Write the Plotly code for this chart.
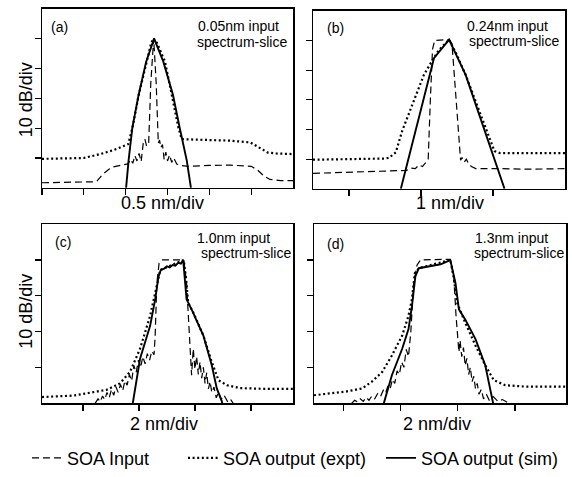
import plotly.graph_objects as go

W, H = 572, 477

# ---------------- data (units: divisions) ----------------
# Panel (a) 0.05 nm slice
a_in_x = [0, 0.6, 1.2, 1.31, 1.45, 1.6, 1.71, 1.9, 2.05, 2.12, 2.17, 2.22, 2.27, 2.32, 2.37, 2.42, 2.46, 2.5, 2.55, 2.6, 2.67, 2.73, 2.78, 2.81, 2.84, 2.88, 2.92, 2.96, 3.0, 3.05, 3.1, 3.15, 3.22, 3.3, 3.5, 4.0, 4.5, 5.0, 5.15, 5.3, 5.45, 5.7, 6.0]
a_in_y = [0.17, 0.18, 0.2, 0.22, 0.45, 0.62, 0.7, 0.76, 0.8, 0.95, 0.82, 1.08, 0.9, 1.15, 0.88, 1.5, 1.63, 1.4, 1.5, 3.5, 5.0, 3.5, 1.5, 1.6, 1.35, 1.45, 0.95, 1.2, 0.9, 1.1, 0.85, 1.0, 0.8, 0.75, 0.72, 0.75, 0.76, 0.72, 0.6, 0.4, 0.28, 0.24, 0.24]
a_ex_x = [0, 0.5, 1.0, 1.39, 1.7, 2.06, 2.16, 2.31, 2.49, 2.6, 2.66, 2.75, 2.94, 3.10, 3.26, 3.34, 3.6, 4.0, 4.5, 4.98, 5.1, 5.25, 5.4, 5.6, 6.0]
a_ex_y = [0.97, 0.98, 1.0, 1.13, 1.26, 1.46, 2.0, 3.1, 4.2, 4.8, 5.02, 4.85, 4.23, 3.12, 2.02, 1.63, 1.62, 1.6, 1.58, 1.52, 1.42, 1.28, 1.18, 1.15, 1.13]
a_sim_x = [2.01, 2.07, 2.16, 2.31, 2.49, 2.68, 2.90, 3.13, 3.29, 3.46, 3.56]
a_sim_y = [0.0, 0.92, 2.02, 3.12, 4.23, 5.0, 4.23, 3.12, 2.02, 0.92, 0.0]

# Panel (b) 0.24 nm slice
b_in_x = [0, 0.5, 1.0, 1.3, 1.36, 1.42, 1.47, 1.52, 1.57, 1.6, 1.63, 1.66, 1.69, 1.89, 1.93, 1.98, 2.03, 2.05, 2.07, 2.1, 2.13, 2.16, 2.2, 2.26, 2.6, 3.0, 3.5]
b_in_y = [0.52, 0.55, 0.6, 0.62, 0.7, 0.68, 0.8, 0.75, 0.9, 1.0, 3.0, 4.7, 5.0, 5.03, 4.9, 3.18, 1.51, 0.96, 1.05, 0.9, 1.0, 0.85, 0.75, 0.68, 0.68, 0.66, 0.68]
b_ex_x = [0, 0.5, 1.0, 1.06, 1.15, 1.24, 1.38, 1.54, 1.66, 1.75, 1.89, 2.0, 2.12, 2.31, 2.45, 2.52, 2.6, 3.0, 3.5]
b_ex_y = [0.98, 0.99, 1.02, 1.05, 1.23, 1.96, 2.84, 3.84, 4.34, 4.68, 5.03, 4.5, 3.84, 2.62, 1.68, 1.27, 1.2, 1.2, 1.2]
b_sim_x = [1.22, 1.38, 1.5, 1.68, 1.89, 2.12, 2.3, 2.5, 2.66]
b_sim_y = [0.0, 1.51, 2.7, 4.4, 5.03, 3.84, 2.56, 1.16, 0.0]

# Panel (c) 1.0 nm slice
c_in_x = [0.22, 0.27, 0.31, 0.35, 0.39, 0.43, 0.47, 0.51, 0.55, 0.59, 0.63, 0.67, 0.71, 0.75, 0.79, 0.83, 0.87, 0.91, 0.95, 0.99, 1.03, 1.07, 1.11, 1.15, 1.19, 1.23, 1.27,
          1.29, 1.32, 1.36, 1.42, 1.8, 1.85, 1.9, 1.94,
          1.97, 2.0, 2.03, 2.06, 2.09, 2.12, 2.15, 2.18, 2.21, 2.24, 2.27, 2.3, 2.34, 2.38, 2.42, 2.47, 2.52, 2.58, 2.63, 2.68]
c_in_y = [0.0, 0.12, 0.04, 0.2, 0.1, 0.3, 0.15, 0.38, 0.22, 0.45, 0.3, 0.52, 0.35, 0.62, 0.5, 0.8, 0.62, 1.05, 0.85, 1.2, 1.0, 1.3, 1.1, 1.38, 1.2, 1.45, 1.35,
          1.89, 3.36, 3.91, 4.0, 4.0, 3.36, 1.98, 0.78,
          1.52, 0.95, 1.3, 0.8, 1.15, 0.7, 1.0, 0.55, 0.85, 0.4, 0.6, 0.3, 0.45, 0.15, 0.3, 0.1, 0.22, 0.05, 0.12, 0.0]
c_ex_x = [-0.73, -0.17, 0.42, 0.66, 0.84, 1.02, 1.2, 1.32, 1.38, 1.5, 1.65, 1.8, 1.84, 1.88, 1.97, 2.15, 2.30, 2.42, 2.57, 2.8, 3.2, 3.75]
c_ex_y = [0.17, 0.21, 0.37, 0.55, 0.87, 1.52, 2.44, 3.26, 3.72, 3.8, 3.9, 4.0, 3.5, 2.8, 2.53, 1.89, 1.15, 0.64, 0.5, 0.42, 0.4, 0.4]
c_sim_x = [0.88, 1.02, 1.2, 1.29, 1.35, 1.39, 1.45, 1.5, 1.55, 1.6, 1.65, 1.7, 1.75, 1.79, 1.85, 1.94, 2.15, 2.30, 2.39, 2.48, 2.5]
c_sim_y = [-0.1, 1.24, 2.16, 2.9, 3.54, 3.72, 3.76, 3.82, 3.79, 3.86, 3.84, 3.92, 3.9, 4.0, 2.9, 2.62, 1.89, 1.06, 0.41, 0.05, -0.1]

# Panel (d) 1.3 nm slice
d_in_x = [0.15, 0.2, 0.25, 0.3, 0.35, 0.4, 0.45, 0.5, 0.55, 0.6, 0.65, 0.7, 0.74, 0.78, 0.82, 0.86, 0.9, 0.94, 0.98, 1.02, 1.06, 1.1, 1.14,
          1.18, 1.23, 1.29, 1.35, 1.87, 1.93, 1.97, 2.02,
          2.04, 2.07, 2.1, 2.13, 2.16, 2.19, 2.22, 2.25, 2.28, 2.31, 2.34, 2.37, 2.41, 2.45, 2.5, 2.55, 2.62, 2.7, 2.78, 2.89]
d_in_y = [0.0, 0.08, 0.03, 0.12, 0.05, 0.16, 0.08, 0.2, 0.12, 0.26, 0.18, 0.36, 0.28, 0.48, 0.4, 0.66, 0.55, 0.9, 0.8, 1.15, 1.0, 1.5, 1.3,
          1.98, 3.36, 3.86, 4.0, 4.02, 3.54, 2.44, 1.43,
          1.75, 1.3, 1.55, 1.05, 1.25, 0.8, 1.0, 0.6, 0.75, 0.4, 0.55, 0.25, 0.38, 0.12, 0.25, 0.08, 0.18, 0.05, 0.1, 0.0]
d_ex_x = [-0.51, 0.04, 0.33, 0.5, 0.68, 0.85, 1.03, 1.14, 1.2, 1.25, 1.32, 1.6, 1.87, 1.93, 1.99, 2.13, 2.31, 2.48, 2.63, 2.83, 3.2, 3.89]
d_ex_y = [0.22, 0.32, 0.41, 0.6, 0.87, 1.33, 1.89, 2.44, 2.9, 3.63, 3.77, 3.88, 4.0, 3.5, 2.8, 2.25, 1.61, 1.06, 0.64, 0.5, 0.46, 0.46]
d_sim_x = [0.71, 0.85, 1.03, 1.14, 1.2, 1.26, 1.32, 1.4, 1.5, 1.6, 1.7, 1.8, 1.87, 1.96, 2.02, 2.13, 2.31, 2.48, 2.54, 2.6, 2.63]
d_sim_y = [0.0, 0.78, 1.52, 2.07, 2.71, 3.54, 3.77, 3.79, 3.83, 3.86, 3.88, 3.95, 4.0, 3.36, 2.62, 2.34, 1.79, 1.06, 0.6, 0.14, -0.1]

panel_labels = ["(a)", "(b)", "(c)", "(d)"]
slice_labels = ["0.05nm input", "0.24nm input", "1.0nm input", "1.3nm input"]
x_titles = ["0.5 nm/div", "1 nm/div", "2 nm/div", "2 nm/div"]
y_title = "10 dB/div"
series_names = ["SOA Input", "SOA output (expt)", "SOA output (sim)"]

# ---------------- layout helpers ----------------
def fx(px):
    return px / W

def fy(py):
    return 1 - py / H

FONT = "Liberation Sans, Arial, sans-serif"

# pixel boxes: (left, right, top, bottom)
boxes = [(42, 293, 9, 191), (313, 565, 11, 192), (42, 293, 228, 410), (314, 566, 228, 410)]
xranges = [[0, 6], [0, 3.5], [-0.73, 3.75], [-0.51, 3.89]]
yranges = [[0, 6], [0, 6], [0, 5], [0, 5]]
xticks = [[0, 1, 2, 3, 4, 5], [0.5, 1.5, 2.5], [0, 1, 2, 3], [0, 1, 2, 3]]
yticks = [[1, 2, 3, 4, 5], [1, 2, 3, 4, 5], [1, 2, 3, 4], [1, 2, 3, 4]]

data = [
    (a_in_x, a_in_y, a_ex_x, a_ex_y, a_sim_x, a_sim_y),
    (b_in_x, b_in_y, b_ex_x, b_ex_y, b_sim_x, b_sim_y),
    (c_in_x, c_in_y, c_ex_x, c_ex_y, c_sim_x, c_sim_y),
    (d_in_x, d_in_y, d_ex_x, d_ex_y, d_sim_x, d_sim_y),
]

styles = [
    dict(color="black", width=1.2, dash="7px,4px"),
    dict(color="black", width=2.2, dash="2px,2.6px"),
    dict(color="black", width=1.9),
]
legend_ids = ["legend", "legend2", "legend3"]

fig = go.Figure()
for i, d in enumerate(data):
    sfx = "" if i == 0 else str(i + 1)
    for k in range(3):
        fig.add_trace(go.Scatter(
            x=d[2 * k], y=d[2 * k + 1], mode="lines",
            line=styles[k], name=series_names[k],
            xaxis="x" + sfx, yaxis="y" + sfx,
            showlegend=(i == 0), legend=legend_ids[k],
            hoverinfo="skip",
        ))

layout = dict(
    width=W, height=H, margin=dict(l=0, r=0, t=0, b=0),
    paper_bgcolor="white", plot_bgcolor="white",
    font=dict(family=FONT, color="black", size=18),
    annotations=[],
)
for i, (l, r, t, b) in enumerate(boxes):
    sfx = "" if i == 0 else str(i + 1)
    common = dict(showline=True, linecolor="black", linewidth=1.5, mirror=True,
                  ticks="outside", ticklen=6, tickwidth=1.2, tickcolor="black",
                  showticklabels=False, showgrid=False, zeroline=False, fixedrange=True)
    layout["xaxis" + sfx] = dict(domain=[fx(l), fx(r)], range=xranges[i],
                                 tickvals=xticks[i], anchor="y" + sfx, **common)
    layout["yaxis" + sfx] = dict(domain=[fy(b), fy(t)], range=yranges[i],
                                 tickvals=yticks[i], anchor="x" + sfx, **common)

ann = layout["annotations"]
# panel labels and slice labels (pixel positions)
lab_pos = [(49, 27), (325, 28), (53, 246), (325, 248)]
sl1_pos = [(196, 26), (465, 26), (195, 242), (473, 242)]
sl2_pos = [(195, 43), (467, 42), (199, 257), (472, 257)]
for i in range(4):
    ann.append(dict(text=panel_labels[i], x=fx(lab_pos[i][0]), y=fy(lab_pos[i][1]),
                    xref="paper", yref="paper", xanchor="left", yanchor="middle",
                    showarrow=False, font=dict(size=14)))
    ann.append(dict(text=slice_labels[i], x=fx(sl1_pos[i][0]), y=fy(sl1_pos[i][1]),
                    xref="paper", yref="paper", xanchor="left", yanchor="middle",
                    showarrow=False, font=dict(size=14)))
    ann.append(dict(text="spectrum-slice", x=fx(sl2_pos[i][0]), y=fy(sl2_pos[i][1]),
                    xref="paper", yref="paper", xanchor="left", yanchor="middle",
                    showarrow=False, font=dict(size=14)))

xt_pos = [(162, 206), (450, 206), (164, 431), (437, 431)]
for i in range(4):
    ann.append(dict(text=x_titles[i], x=fx(xt_pos[i][0]), y=fy(xt_pos[i][1]),
                    xref="paper", yref="paper", xanchor="center", yanchor="middle",
                    showarrow=False, font=dict(size=18)))
for (px, py) in [(26, 102), (26, 317)]:
    ann.append(dict(text=y_title, x=fx(px), y=fy(py), textangle=-90,
                    xref="paper", yref="paper", xanchor="center", yanchor="middle",
                    showarrow=False, font=dict(size=18)))

leg_x = [27, 183, 381]
for k, lid in enumerate(legend_ids):
    layout[lid] = dict(x=fx(leg_x[k]), y=fy(466), xanchor="left", yanchor="middle",
                       orientation="h", bgcolor="rgba(0,0,0,0)", borderwidth=0,
                       font=dict(size=18, family=FONT), itemclick=False, itemdoubleclick=False)

fig.update_layout(**layout)
# remove the browser's default 8px body margin so the figure sits at the page origin
fig.write_html("out.html", config={"displayModeBar": False, "staticPlot": True},
               post_script="document.body.style.margin='0';")
